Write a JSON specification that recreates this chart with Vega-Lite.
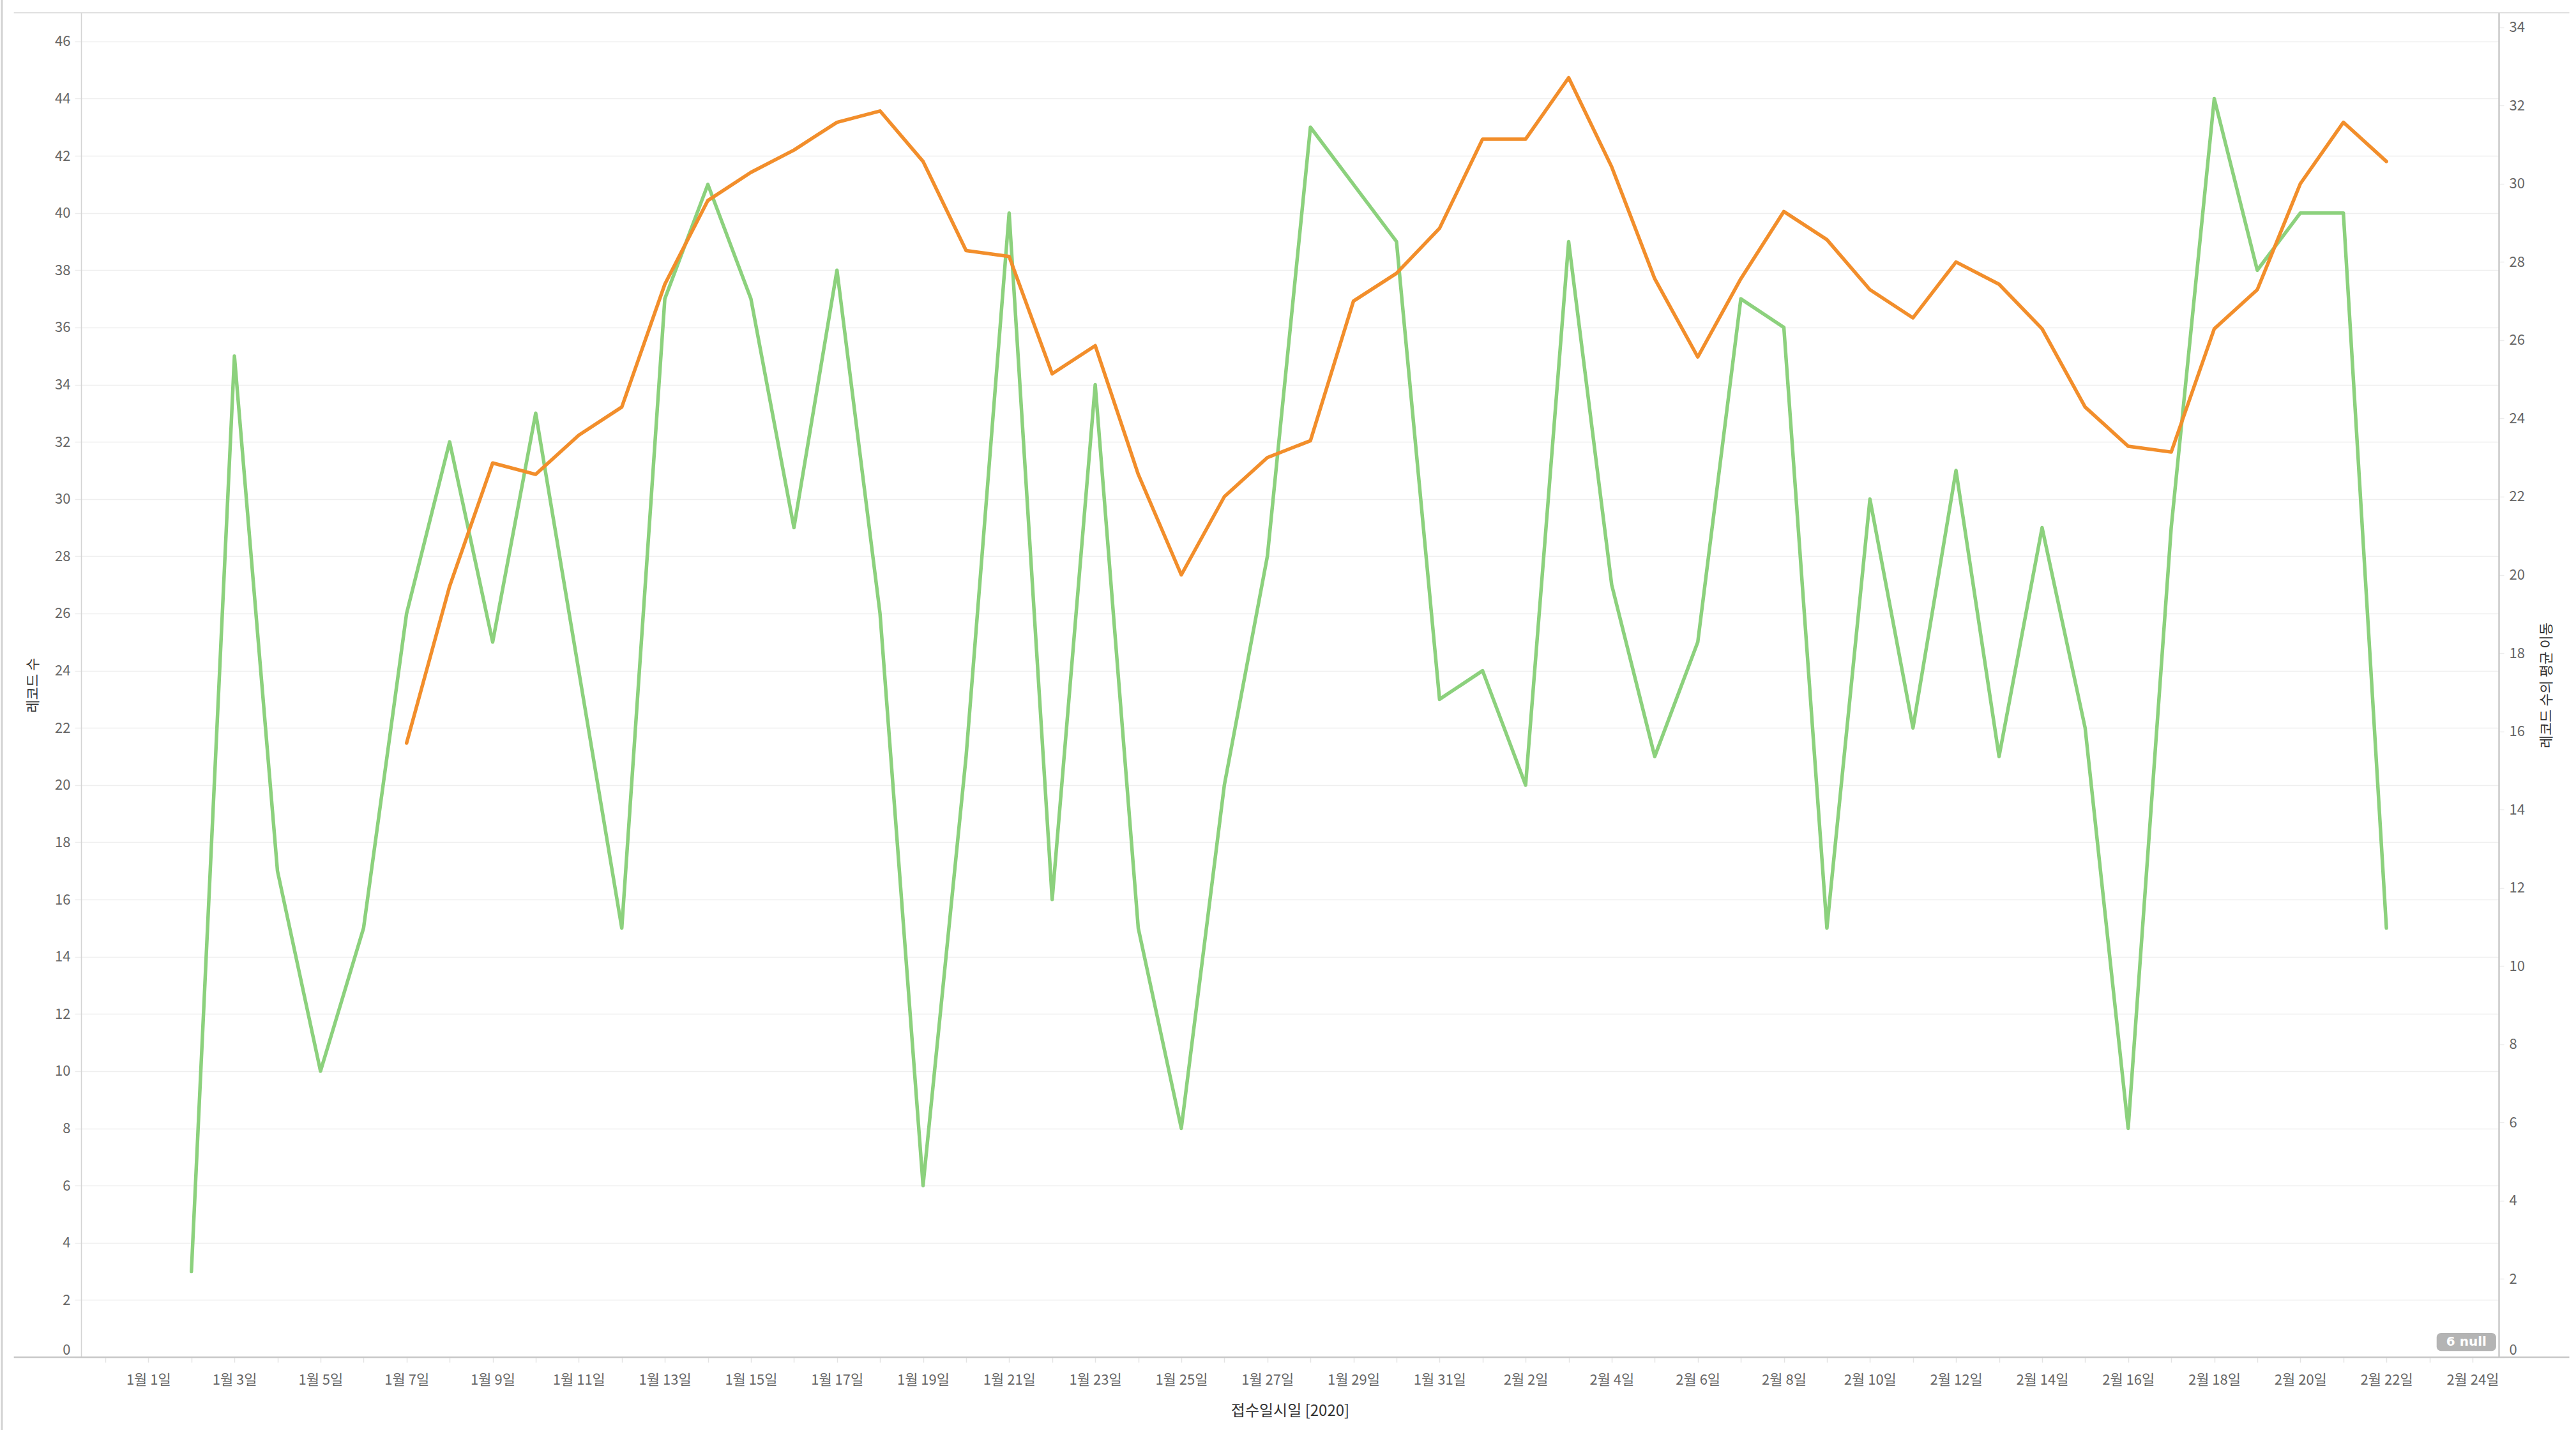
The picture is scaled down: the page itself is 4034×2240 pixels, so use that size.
{
  "$schema": "https://vega.github.io/schema/vega-lite/v6.json",
  "width": 3786,
  "height": 2106,
  "autosize": {"type": "none"},
  "padding": {"left": 127, "top": 20, "right": 121, "bottom": 114},
  "background": "white",
  "config": {
    "view": {"stroke": null},
    "font": "Noto Sans CJK KR",
    "axis": {
      "labelFont": "Noto Sans CJK KR",
      "titleFont": "Noto Sans CJK KR",
      "labelColor": "#666666",
      "titleColor": "#333333",
      "labelFontSize": 22,
      "titleFontSize": 22,
      "titleFontWeight": "normal"
    }
  },
  "data": {
    "values": [
      {"date": "2020-01-02", "count": 3, "ma": null},
      {"date": "2020-01-03", "count": 35, "ma": null},
      {"date": "2020-01-04", "count": 17, "ma": null},
      {"date": "2020-01-05", "count": 10, "ma": null},
      {"date": "2020-01-06", "count": 15, "ma": null},
      {"date": "2020-01-07", "count": 26, "ma": 15.7},
      {"date": "2020-01-08", "count": 32, "ma": 19.71},
      {"date": "2020-01-09", "count": 25, "ma": 22.86},
      {"date": "2020-01-10", "count": 33, "ma": 22.57},
      {"date": "2020-01-11", "count": 24, "ma": 23.57},
      {"date": "2020-01-12", "count": 15, "ma": 24.29},
      {"date": "2020-01-13", "count": 37, "ma": 27.43},
      {"date": "2020-01-14", "count": 41, "ma": 29.57},
      {"date": "2020-01-15", "count": 37, "ma": 30.29},
      {"date": "2020-01-16", "count": 29, "ma": 30.86},
      {"date": "2020-01-17", "count": 38, "ma": 31.57},
      {"date": "2020-01-18", "count": 26, "ma": 31.86},
      {"date": "2020-01-19", "count": 6, "ma": 30.57},
      {"date": "2020-01-20", "count": 21, "ma": 28.29},
      {"date": "2020-01-21", "count": 40, "ma": 28.14},
      {"date": "2020-01-22", "count": 16, "ma": 25.14},
      {"date": "2020-01-23", "count": 34, "ma": 25.86},
      {"date": "2020-01-24", "count": 15, "ma": 22.57},
      {"date": "2020-01-25", "count": 8, "ma": 20.0},
      {"date": "2020-01-26", "count": 20, "ma": 22.0},
      {"date": "2020-01-27", "count": 28, "ma": 23.0},
      {"date": "2020-01-28", "count": 43, "ma": 23.43},
      {"date": "2020-01-29", "count": 41, "ma": 27.0},
      {"date": "2020-01-30", "count": 39, "ma": 27.71},
      {"date": "2020-01-31", "count": 23, "ma": 28.86},
      {"date": "2020-02-01", "count": 24, "ma": 31.14},
      {"date": "2020-02-02", "count": 20, "ma": 31.14},
      {"date": "2020-02-03", "count": 39, "ma": 32.71},
      {"date": "2020-02-04", "count": 27, "ma": 30.43},
      {"date": "2020-02-05", "count": 21, "ma": 27.57},
      {"date": "2020-02-06", "count": 25, "ma": 25.57},
      {"date": "2020-02-07", "count": 37, "ma": 27.57},
      {"date": "2020-02-08", "count": 36, "ma": 29.29},
      {"date": "2020-02-09", "count": 15, "ma": 28.57},
      {"date": "2020-02-10", "count": 30, "ma": 27.29},
      {"date": "2020-02-11", "count": 22, "ma": 26.57},
      {"date": "2020-02-12", "count": 31, "ma": 28.0},
      {"date": "2020-02-13", "count": 21, "ma": 27.43},
      {"date": "2020-02-14", "count": 29, "ma": 26.29},
      {"date": "2020-02-15", "count": 22, "ma": 24.29},
      {"date": "2020-02-16", "count": 8, "ma": 23.29},
      {"date": "2020-02-17", "count": 29, "ma": 23.14},
      {"date": "2020-02-18", "count": 44, "ma": 26.29},
      {"date": "2020-02-19", "count": 38, "ma": 27.29},
      {"date": "2020-02-20", "count": 40, "ma": 30.0},
      {"date": "2020-02-21", "count": 40, "ma": 31.57},
      {"date": "2020-02-22", "count": 15, "ma": 30.57}
    ]
  },
  "layer": [
    {
      "layer": [
        {
          "data": {"values": [{"k": 1}]},
          "mark": {"type": "rule", "color": "#d2d2d2", "strokeWidth": 3, "clip": false},
          "encoding": {
            "x": {"datum": {"year": 2019, "month": 12, "date": 28, "hours": 14, "minutes": 20, "utc": true}, "type": "temporal"},
            "y": {"datum": -2.6, "type": "quantitative"},
            "y2": {"datum": 47.5}
          }
        },
        {
          "data": {"values": [{"k": 1}]},
          "mark": {"type": "rule", "color": "#c8c8c8", "strokeWidth": 2.5, "clip": false},
          "encoding": {
            "x": {"datum": {"year": 2019, "month": 12, "date": 28, "hours": 21, "utc": true}, "type": "temporal"},
            "x2": {"datum": {"year": 2020, "month": 2, "date": 26, "hours": 6, "utc": true}},
            "y": {"datum": 0, "type": "quantitative"}
          }
        },
        {
          "data": {"values": [{"k": 1}]},
          "mark": {"type": "rule", "color": "#d6d6d6", "strokeWidth": 1.5, "clip": false},
          "encoding": {
            "x": {"datum": {"year": 2019, "month": 12, "date": 28, "hours": 21, "utc": true}, "type": "temporal"},
            "x2": {"datum": {"year": 2020, "month": 2, "date": 26, "hours": 6, "utc": true}},
            "y": {"datum": 47, "type": "quantitative"}
          }
        },
        {
          "mark": {"type": "line", "color": "#8CD17D", "strokeWidth": 5.5, "strokeJoin": "round", "strokeCap": "round"},
          "encoding": {
            "x": {
              "field": "date",
              "type": "temporal",
              "scale": {
                "type": "utc",
                "domain": [
                  {"year": 2019, "month": 12, "date": 30, "hours": 10, "minutes": 30, "utc": true},
                  {"year": 2020, "month": 2, "date": 24, "hours": 14, "minutes": 38, "utc": true}
                ]
              },
              "axis": {
                "title": "접수일시일 [2020]",
                "titleFontSize": 24,
                "titlePadding": 26,
                "domain": false,
                "grid": false,
                "tickCount": {"interval": "day", "step": 1},
                "tickColor": "#e4e4e4",
                "tickSize": 8,
                "tickWidth": 1.5,
                "labelPadding": 17,
                "labelOverlap": false,
                "labelFlush": false,
                "labelBound": false,
                "labelExpr": "round((datum.value - 1577836800000) / 86400000) % 2 === 0 ? utcFormat(datum.value, '%-m월 %-d일') : ''"
              }
            },
            "y": {
              "field": "count",
              "type": "quantitative",
              "scale": {"domain": [0, 47], "nice": false, "zero": true},
              "axis": {
                "title": "레코드 수",
                "orient": "left",
                "values": [0, 2, 4, 6, 8, 10, 12, 14, 16, 18, 20, 22, 24, 26, 28, 30, 32, 34, 36, 38, 40, 42, 44, 46],
                "grid": true,
                "gridColor": "#efefef",
                "gridWidth": 1.5,
                "domain": true,
                "domainColor": "#d4d4d4",
                "domainWidth": 1.5,
                "tickColor": "#ececec",
                "tickSize": 10,
                "tickWidth": 1.5,
                "labelPadding": 7,
                "labelFlush": true,
                "titlePadding": 22
              }
            }
          }
        },
        {
          "data": {"values": [{"label": "6 null"}]},
          "mark": {"type": "rect", "color": "#b4b4b4", "cornerRadius": 7, "clip": false},
          "encoding": {
            "x": {"datum": {"year": 2020, "month": 2, "date": 23, "hours": 4, "utc": true}, "type": "temporal"},
            "x2": {"datum": {"year": 2020, "month": 2, "date": 24, "hours": 13, "minutes": 10, "utc": true}},
            "y": {"datum": 0.22, "type": "quantitative"},
            "y2": {"datum": 0.85}
          }
        },
        {
          "data": {"values": [{"label": "6 null"}]},
          "mark": {"type": "text", "color": "white", "fontWeight": "bold", "fontSize": 20, "align": "center", "baseline": "middle", "font": "DejaVu Sans", "clip": false},
          "encoding": {
            "x": {"datum": {"year": 2020, "month": 2, "date": 23, "hours": 20, "minutes": 35, "utc": true}, "type": "temporal"},
            "y": {"datum": 0.54, "type": "quantitative"},
            "text": {"field": "label"}
          }
        }
      ]
    },
    {
      "mark": {"type": "line", "color": "#F28E2B", "strokeWidth": 5.5, "strokeJoin": "round", "strokeCap": "round"},
      "encoding": {
        "x": {"field": "date", "type": "temporal"},
        "y": {
          "field": "ma",
          "type": "quantitative",
          "scale": {"domain": [0, 34.37], "nice": false, "zero": true},
          "axis": {
            "title": "레코드 수의 평균 이동",
            "orient": "right",
            "values": [0, 2, 4, 6, 8, 10, 12, 14, 16, 18, 20, 22, 24, 26, 28, 30, 32, 34],
            "grid": false,
            "domain": true,
            "domainColor": "#c8c8c8",
            "domainWidth": 2.5,
            "tickColor": "#ececec",
            "tickSize": 8,
            "tickWidth": 1.5,
            "labelPadding": 8,
            "labelFlush": true,
            "titleAngle": 270,
            "titleBaseline": "top",
            "titlePadding": 24
          }
        }
      }
    }
  ],
  "resolve": {"scale": {"y": "independent"}}
}
